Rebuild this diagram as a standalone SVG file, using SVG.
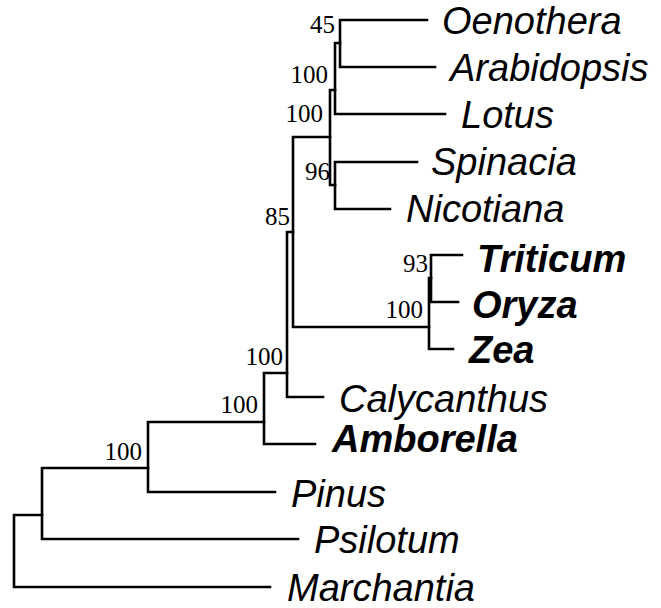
<svg xmlns="http://www.w3.org/2000/svg" width="661" height="608" viewBox="0 0 661 608">
<style>
.br{fill:none;stroke:#000;stroke-width:2.6;stroke-linecap:square}
.tx{font-family:"Liberation Sans",Arial,sans-serif;font-style:italic;font-size:38px;fill:#000}
.b{font-weight:bold}
.bs{font-family:"Liberation Serif","Times New Roman",serif;font-size:25px;fill:#000;text-anchor:end}
</style>
<rect width="661" height="608" fill="#fff"/>
<g id="connectors">
<path class="br" d="M14,515V587H270M14,515H42"/>
<path class="br" d="M42,468V539H298M42,468H148"/>
<path class="br" d="M148,422V492H275M148,422H264"/>
<path class="br" d="M264,373V444H315M264,373H287"/>
<path class="br" d="M287,232V397H323M287,232H293"/>
<path class="br" d="M293,137V327H429M293,137H330"/>
<path class="br" d="M330,90V185M330,90H335M330,185H335"/>
<path class="br" d="M335,43V114H445M335,43H340"/>
<path class="br" d="M340,20V67H435M340,20H427"/>
<path class="br" d="M335,162V209H390M335,162H417"/>
<path class="br" d="M429,278V349H453M429,278H431"/>
<path class="br" d="M431,255V302H458M431,255H462"/>
</g>
<g id="Oenothera"><text class="tx" x="442" y="34">Oenothera</text></g>
<g id="Arabidopsis"><text class="tx" x="450" y="81">Arabidopsis</text></g>
<g id="Lotus"><text class="tx" x="461" y="128">Lotus</text></g>
<g id="Spinacia"><text class="tx" x="431" y="175">Spinacia</text></g>
<g id="Nicotiana"><text class="tx" x="406" y="222">Nicotiana</text></g>
<g id="Triticum"><text class="tx b" x="477" y="272">Triticum</text></g>
<g id="Oryza"><text class="tx b" x="472" y="318">Oryza</text></g>
<g id="Zea"><text class="tx b" x="469" y="363">Zea</text></g>
<g id="Calycanthus"><text class="tx" x="339" y="412">Calycanthus</text></g>
<g id="Amborella"><text class="tx b" x="332" y="452">Amborella</text></g>
<g id="Pinus"><text class="tx" x="291" y="507">Pinus</text></g>
<g id="Psilotum"><text class="tx" x="314" y="553">Psilotum</text></g>
<g id="Marchantia"><text class="tx" x="287" y="601">Marchantia</text></g>
<g id="node-45"><text class="bs" x="335" y="33">45</text></g>
<g id="node-100a"><text class="bs" x="328" y="83">100</text></g>
<g id="node-100b"><text class="bs" x="323" y="122">100</text></g>
<g id="node-96"><text class="bs" x="330" y="180">96</text></g>
<g id="node-85"><text class="bs" x="290" y="225">85</text></g>
<g id="node-93"><text class="bs" x="428" y="272">93</text></g>
<g id="node-100c"><text class="bs" x="423" y="318">100</text></g>
<g id="node-100d"><text class="bs" x="283" y="365">100</text></g>
<g id="node-100e"><text class="bs" x="258" y="413">100</text></g>
<g id="node-100f"><text class="bs" x="142" y="460">100</text></g>
</svg>
